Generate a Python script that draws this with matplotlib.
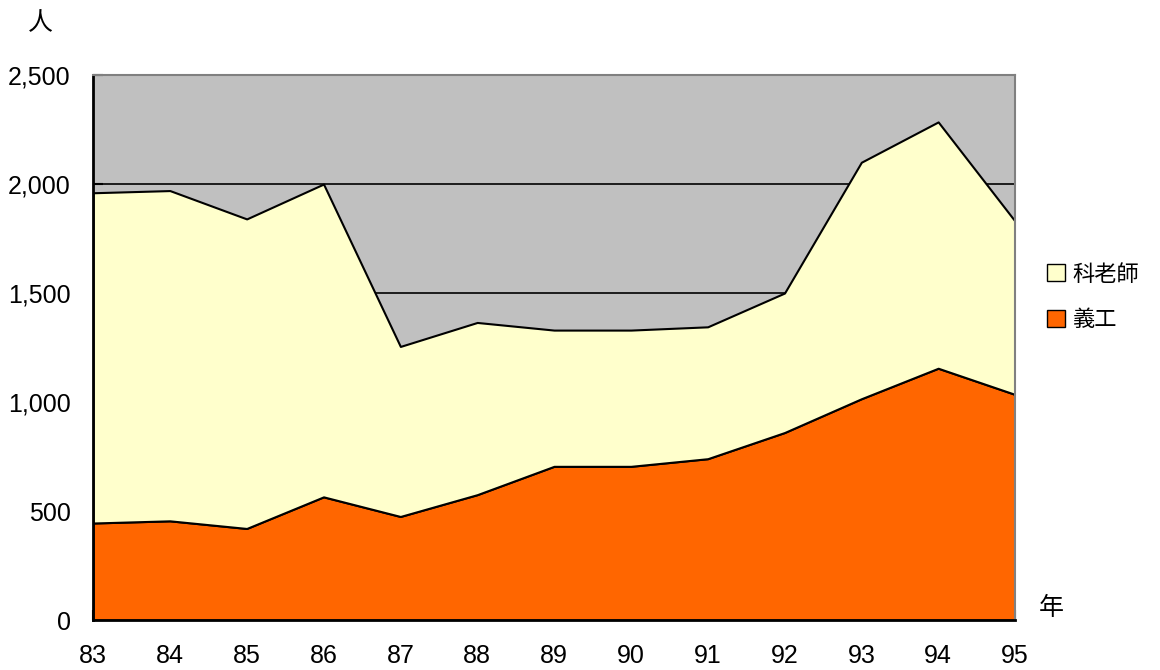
import matplotlib.pyplot as plt
from matplotlib.patches import Patch

plt.rcParams['font.family'] = ['Liberation Sans', 'Noto Sans CJK TC', 'DejaVu Sans']

anios = [83, 84, 85, 86, 87, 88, 89, 90, 91, 92, 93, 94, 95]
etiquetas = ['83', '84', '85', '86', '87', '88', '89', '90', '91', '92', '93', '94', '95']
voluntarios = [445, 455, 420, 565, 475, 575, 705, 705, 740, 860, 1015, 1155, 1035]
totales = [1960, 1970, 1840, 2000, 1255, 1365, 1330, 1330, 1345, 1500, 2100, 2285, 1830]
maestros = [t - v for t, v in zip(totales, voluntarios)]

fig = plt.figure(figsize=(11.6, 6.7), dpi=100)
ax = fig.add_axes([0.0802, 0.0746, 0.7948, 0.8134])
ax.set_facecolor('#C0C0C0')

for y in [500, 1000, 1500, 2000]:
    ax.axhline(y, color='black', lw=1.2, zorder=1)

ax.stackplot(anios, voluntarios, maestros, colors=['#FF6600', '#FFFFCC'],
             edgecolor='black', linewidth=1.5, zorder=2)

ax.set_xlim(83, 95)
ax.set_ylim(0, 2500)
ax.set_xticks(anios)
ax.set_xticklabels(etiquetas)
ax.set_yticks([0, 500, 1000, 1500, 2000, 2500])
ax.set_yticklabels(['0', '500', '1,000', '1,500', '2,000', '2,500'])
ax.tick_params(axis='both', direction='in', length=7, width=1.5, labelsize=18)
ax.tick_params(axis='x', pad=17)
ax.tick_params(axis='y', pad=16)

for lado in ['left', 'bottom']:
    ax.spines[lado].set_linewidth(2)
    ax.spines[lado].set_color('black')
for lado in ['top', 'right']:
    ax.spines[lado].set_linewidth(1.5)
    ax.spines[lado].set_color('#808080')

fig.text(0.035, 0.965, '人', fontsize=18, ha='center', va='center',
         family=['Noto Sans CJK TC'])
fig.text(0.906, 0.093, '年', fontsize=18, ha='center', va='center',
         family=['Noto Sans CJK TC'])

manijas = [Patch(facecolor='#FFFFCC', edgecolor='black', label='科老師'),
           Patch(facecolor='#FF6600', edgecolor='black', label='義工')]
fig.legend(handles=manijas, loc='center left', bbox_to_anchor=(0.9025, 0.557),
           frameon=False, prop={'family': 'Noto Sans CJK TC', 'size': 16},
           handlelength=0.8, handleheight=0.8, handletextpad=0.35, labelspacing=1.0,
           borderaxespad=0, borderpad=0)

fig.savefig('out.png', dpi=100)
